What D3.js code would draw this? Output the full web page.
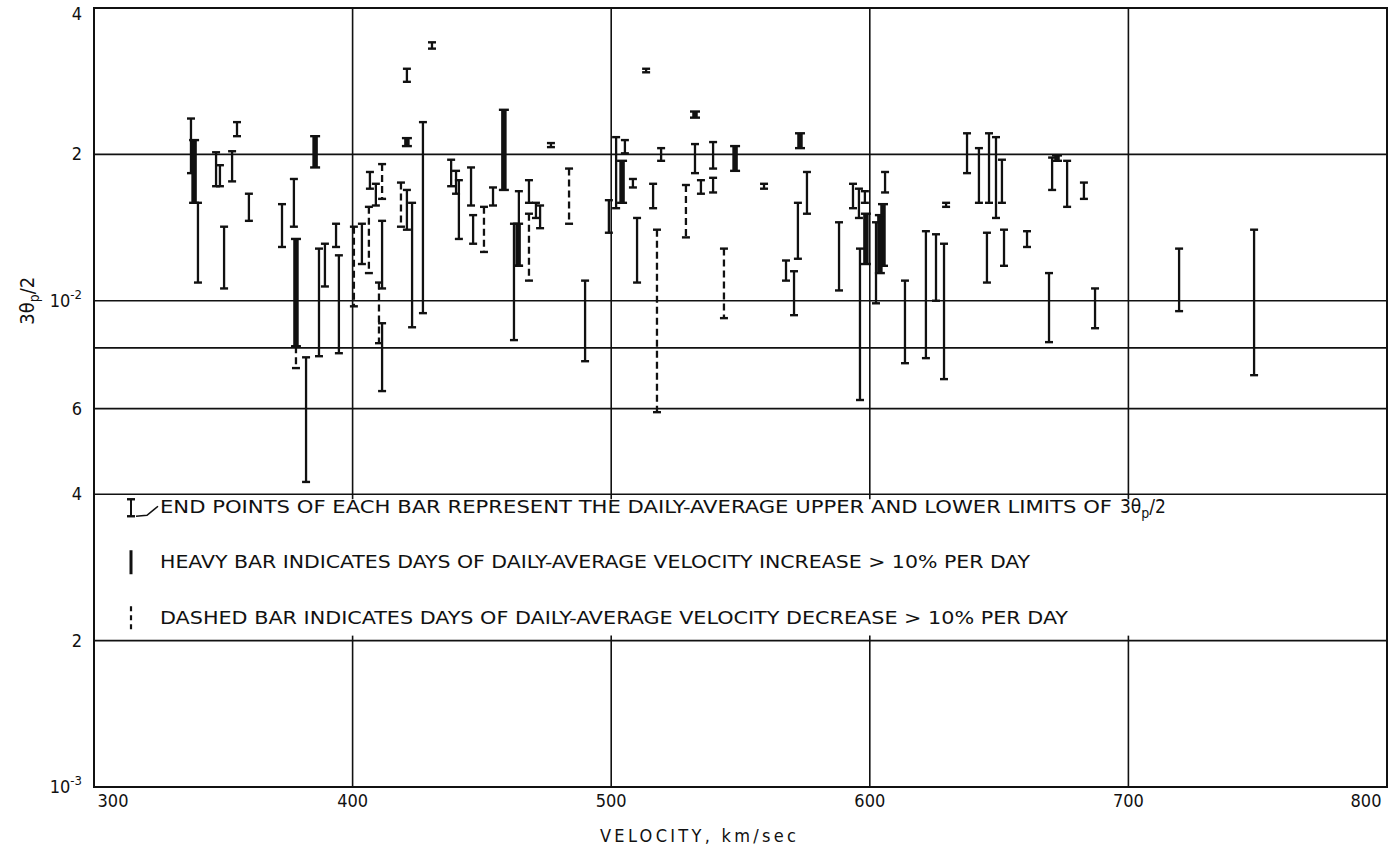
<!DOCTYPE html>
<html>
<head>
<meta charset="utf-8">
<script src="https://cdn.jsdelivr.net/npm/d3@7.9.0/dist/d3.min.js"></script>
<style>
  body { margin: 0; background: #fff; }
  text { font-family: "Liberation Sans Narrow", "DejaVu Sans Condensed", "Liberation Sans", sans-serif; fill: #111; }
</style>
</head>
<body>
<svg id="chart" width="1399" height="852"></svg>
<script>
// daily-average velocity, km/sec
const velocity = [
  337.5, 338.7, 340.2, 347.2, 348.7, 353.4, 355.3, 359.9, 350.3, 385.5,
  372.7, 377.3, 378.1, 378.1, 393.6, 389.3, 387.0, 394.7, 382.0, 400.5,
  403.6, 406.3, 406.7, 409.0, 411.4, 411.4, 410.2, 411.4, 421.0, 421.0,
  430.7, 418.7, 421.0, 423.0, 427.2, 438.1, 440.0, 441.1, 445.8, 446.6,
  450.8, 454.3, 458.5, 462.4, 464.0, 464.3, 468.2, 468.2, 470.9, 472.5,
  476.7, 483.7, 489.9, 499.1, 501.9, 504.2, 505.3, 508.4, 510.0, 513.5,
  516.2, 517.7, 519.3, 528.9, 532.4, 532.4, 534.7, 539.4, 539.4, 547.9,
  543.6, 559.1, 573.0, 575.7, 572.2, 567.6, 570.7, 588.1, 593.5, 595.8,
  598.1, 598.5, 596.2, 605.9, 605.1, 603.9, 602.4, 613.6, 621.7, 625.6,
  628.7, 629.5, 637.6, 642.2, 646.1, 648.8, 651.1, 645.3, 651.9, 660.8,
  670.5, 672.4, 676.3, 682.8, 669.3, 687.1, 719.6, 748.6
];

// upper limit of 3θp/2
const upper = [
  0.0237, 0.0214, 0.0159, 0.0202, 0.0190, 0.0203, 0.0233, 0.0166, 0.0142, 0.0218,
  0.0158, 0.0178, 0.0134, 0.00806, 0.0144, 0.0131, 0.0128, 0.0124, 0.00765, 0.0142,
  0.0144, 0.0156, 0.0184, 0.0174, 0.0191, 0.0146, 0.0109, 0.00899, 0.0216, 0.0300,
  0.0340, 0.0175, 0.0169, 0.0159, 0.0233, 0.0195, 0.0185, 0.0177, 0.0188, 0.0150,
  0.0156, 0.0171, 0.0247, 0.0144, 0.0144, 0.0168, 0.0177, 0.0151, 0.0159, 0.0157,
  0.0211, 0.0187, 0.0110, 0.0161, 0.0217, 0.0194, 0.0214, 0.0178, 0.0148, 0.0300,
  0.0174, 0.0140, 0.0206, 0.0173, 0.0245, 0.0210, 0.0177, 0.0212, 0.0179, 0.0208,
  0.0128, 0.0174, 0.0221, 0.0184, 0.0159, 0.0121, 0.0115, 0.0145, 0.0174, 0.0170,
  0.0168, 0.0151, 0.0128, 0.0184, 0.0158, 0.0150, 0.0145, 0.0110, 0.0139, 0.0137,
  0.0131, 0.0159, 0.0221, 0.0206, 0.0221, 0.0217, 0.0195, 0.0138, 0.0140, 0.0139,
  0.0197, 0.0199, 0.0194, 0.0175, 0.0114, 0.0106, 0.0128, 0.0140
];

// lower limit of 3θp/2
const lower = [
  0.0183, 0.0159, 0.0109, 0.0172, 0.0172, 0.0176, 0.0218, 0.0146, 0.0106, 0.0188,
  0.0129, 0.0142, 0.00806, 0.00727, 0.0129, 0.0107, 0.00769, 0.00780, 0.00424, 0.00974,
  0.0119, 0.0114, 0.0170, 0.0157, 0.0162, 0.0106, 0.00818, 0.00652, 0.0208, 0.0282,
  0.0330, 0.0142, 0.0140, 0.00882, 0.00943, 0.0172, 0.0166, 0.0134, 0.0157, 0.0131,
  0.0126, 0.0157, 0.0169, 0.00830, 0.0118, 0.0118, 0.0159, 0.0110, 0.0148, 0.0141,
  0.0207, 0.0144, 0.00751, 0.0138, 0.0155, 0.0159, 0.0201, 0.0171, 0.0109, 0.0295,
  0.0155, 0.00590, 0.0194, 0.0135, 0.0238, 0.0183, 0.0166, 0.0187, 0.0167, 0.0185,
  0.00921, 0.0170, 0.0206, 0.0151, 0.0122, 0.0110, 0.00934, 0.0105, 0.0155, 0.0148,
  0.0159, 0.0119, 0.00625, 0.0167, 0.0118, 0.0114, 0.00988, 0.00744, 0.00762, 0.0100,
  0.00690, 0.0156, 0.0183, 0.0159, 0.0159, 0.0148, 0.0159, 0.0109, 0.0118, 0.0129,
  0.0169, 0.0194, 0.0156, 0.0162, 0.00822, 0.00878, 0.00952, 0.00703
];

// n = normal, h = heavy (velocity increase > 10%), d = dashed (decrease > 10%)
const kind = (
  'nhnnnnnnnh' + 'nnhdnnnnnd' + 'ndnndndnhn' + 'ndnnnnnnnn' +
  'dnhnhnndnn' + 'ndnnnhnnnn' + 'ndndhnnnnh' + 'dnhnnnnnnn' +
  'nhnnhhnnnn' + 'nnnnnnnnnn' + 'nhnnnnnn'
).split('');

const xTicks = [300, 400, 500, 600, 700, 800];
const yGrid = [0.02, 0.01, 0.008, 0.006, 0.004, 0.002];
const yTicks = [0.04, 0.02, 0.01, 0.006, 0.004, 0.002, 0.001];
const yTickLabels = ['4', '2', ['10', '-2'], '6', '4', '2', ['10', '-3']];

const legendLines = [
  'END POINTS OF EACH BAR REPRESENT THE DAILY-AVERAGE UPPER AND LOWER LIMITS OF',
  'HEAVY BAR INDICATES DAYS OF DAILY-AVERAGE VELOCITY INCREASE > 10% PER DAY',
  'DASHED BAR INDICATES DAYS OF DAILY-AVERAGE VELOCITY DECREASE > 10% PER DAY'
];

const bars = velocity.map((v, i) => ({ v, hi: upper[i], lo: lower[i], k: kind[i] }));

const svg = d3.select('#chart');
const x = d3.scaleLinear().domain([300, 800]).range([94, 1387]);
const y = d3.scaleLog().domain([0.001, 0.04]).range([787, 8]);

// grid
const grid = svg.append('g').attr('stroke', '#111').attr('stroke-width', 1.6);
grid.selectAll('line.h')
  .data(yGrid)
  .join('line')
  .attr('class', 'h')
  .attr('x1', x(300)).attr('x2', x(800))
  .attr('y1', d => y(d)).attr('y2', d => y(d));

// vertical lines are broken where the legend sits
const vSegs = [];
[400, 500, 600, 700].forEach(v => {
  vSegs.push([v, 0.04, 0.004]);
  vSegs.push([v, 0.002, 0.001]);
});
grid.selectAll('line.v')
  .data(vSegs)
  .join('line')
  .attr('class', 'v')
  .attr('x1', d => x(d[0])).attr('x2', d => x(d[0]))
  .attr('y1', d => y(d[1])).attr('y2', d => y(d[2]));
grid.selectAll('line.t')
  .data([400, 500, 600, 700])
  .join(enter => {
    const g = enter.append('g');
    g.append('line').attr('x1', d => x(d)).attr('x2', d => x(d))
      .attr('y1', y(0.004)).attr('y2', y(0.004) + 5);
    g.append('line').attr('x1', d => x(d)).attr('x2', d => x(d))
      .attr('y1', y(0.002) - 5).attr('y2', y(0.002));
    return g;
  });

svg.append('rect')
  .attr('x', x(300)).attr('y', y(0.04))
  .attr('width', x(800) - x(300)).attr('height', y(0.001) - y(0.04))
  .attr('fill', 'none').attr('stroke', '#111').attr('stroke-width', 2);

// bars
const bw = { n: 2.3, h: 5.5, d: 2.3 };
const cap = { n: 4, h: 5, d: 4 };
const gb = svg.append('g').attr('stroke', '#111');
const bar = gb.selectAll('g').data(bars).join('g');
bar.append('line')
  .attr('x1', d => x(d.v)).attr('x2', d => x(d.v))
  .attr('y1', d => y(d.hi)).attr('y2', d => y(d.lo))
  .attr('stroke-width', d => bw[d.k])
  .attr('stroke-dasharray', d => d.k === 'd' ? '7,4' : null);
bar.append('line')
  .attr('x1', d => x(d.v) - cap[d.k]).attr('x2', d => x(d.v) + cap[d.k])
  .attr('y1', d => y(d.hi)).attr('y2', d => y(d.hi))
  .attr('stroke-width', 2.4);
bar.append('line')
  .attr('x1', d => x(d.v) - cap[d.k]).attr('x2', d => x(d.v) + cap[d.k])
  .attr('y1', d => y(d.lo)).attr('y2', d => y(d.lo))
  .attr('stroke-width', 2.4);

// y tick labels
const yl = svg.append('g').attr('font-size', 18).attr('text-anchor', 'end');
yTicks.forEach((t, i) => {
  const lab = yTickLabels[i];
  const ty = y(t) + (i === 0 ? 12 : 6);
  const txt = yl.append('text').attr('x', 82).attr('y', ty);
  if (Array.isArray(lab)) {
    txt.append('tspan').text(lab[0]);
    txt.append('tspan').attr('dy', -8).attr('font-size', 13).text(lab[1]);
  } else {
    txt.text(lab);
  }
});

// x tick labels
svg.append('g').attr('font-size', 18).attr('text-anchor', 'middle')
  .selectAll('text')
  .data(xTicks)
  .join('text')
  .attr('x', d => x(d) + (d === 300 ? 19 : d === 800 ? -21 : 0))
  .attr('y', 807)
  .text(d => d);

// axis titles
svg.append('text')
  .attr('x', 600).attr('y', 842)
  .attr('font-size', 18)
  .attr('textLength', 196)
  .attr('lengthAdjust', 'spacing')
  .text('VELOCITY, km/sec');

const yt = svg.append('text')
  .attr('transform', `translate(34,${y(0.01)}) rotate(-90)`)
  .attr('text-anchor', 'middle').attr('font-size', 20);
yt.append('tspan').text('3θ');
yt.append('tspan').attr('dy', 5).attr('font-size', 14).text('p');
yt.append('tspan').attr('dy', -5).text('/2');

// legend
const lg = svg.append('g').attr('font-size', 17.5);
const rowY = [y(0.004) + 13, y(0.004) + 68, y(0.004) + 124];
const ends = [1112, 1030, 1068];
legendLines.forEach((s, i) => {
  lg.append('text')
    .attr('x', 160).attr('y', rowY[i] + 6)
    .attr('textLength', ends[i] - 160)
    .attr('lengthAdjust', 'spacingAndGlyphs')
    .text(s);
});
const tail = lg.append('text').attr('x', 1120).attr('y', rowY[0] + 6).attr('font-size', 19);
tail.append('tspan').text('3θ');
tail.append('tspan').attr('dy', 5).attr('font-size', 14).text('p');
tail.append('tspan').attr('dy', -5).text('/2');

const li = svg.append('g').attr('stroke', '#111');
// sample bar with leader
li.append('line').attr('x1', 131).attr('x2', 131).attr('y1', rowY[0] - 8).attr('y2', rowY[0] + 9).attr('stroke-width', 2);
li.append('line').attr('x1', 127).attr('x2', 135).attr('y1', rowY[0] - 8).attr('y2', rowY[0] - 8).attr('stroke-width', 2.4);
li.append('line').attr('x1', 127).attr('x2', 135).attr('y1', rowY[0] + 9).attr('y2', rowY[0] + 9).attr('stroke-width', 2.4);
li.append('path')
  .attr('d', `M136,${rowY[0] + 9} L147,${rowY[0] + 8} L158,${rowY[0] - 1}`)
  .attr('fill', 'none').attr('stroke-width', 1.6);
// heavy sample
li.append('line').attr('x1', 131).attr('x2', 131).attr('y1', rowY[1] - 12).attr('y2', rowY[1] + 12).attr('stroke-width', 3);
// dashed sample
li.append('line').attr('x1', 131).attr('x2', 131).attr('y1', rowY[2] - 12).attr('y2', rowY[2] + 12)
  .attr('stroke-width', 2.2).attr('stroke-dasharray', '5,4');
</script>
</body>
</html>
